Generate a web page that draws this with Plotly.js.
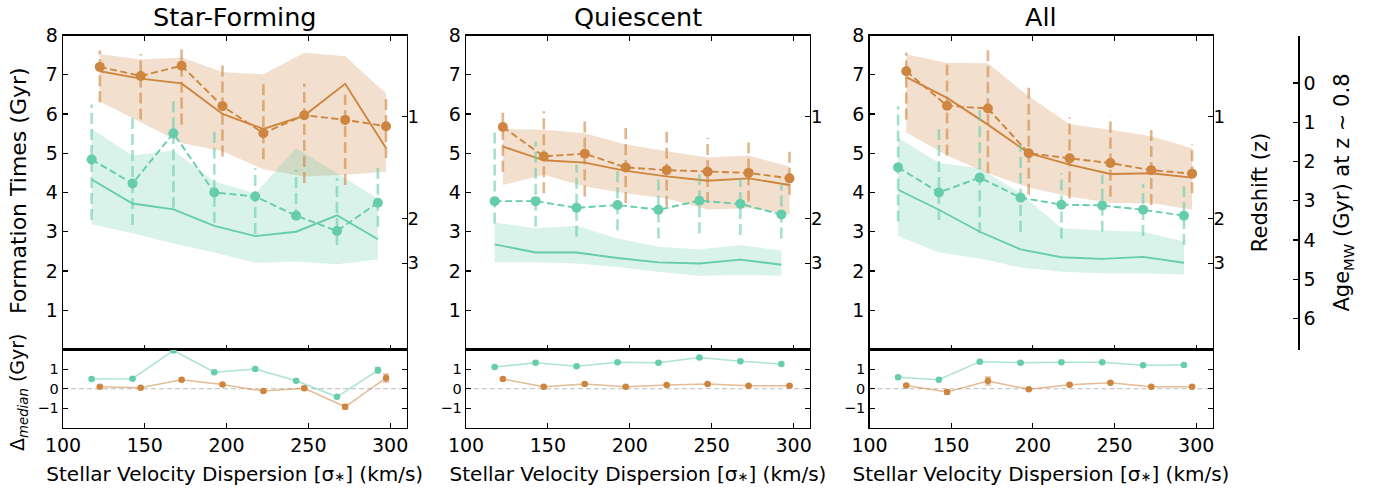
<!DOCTYPE html>
<html>
<head>
<meta charset="utf-8">
<script src="https://cdn.plot.ly/plotly-3.0.1.min.js"></script>
<style>html,body{margin:0;padding:0;background:#fff;}#chart{width:1382px;height:491px;}</style>
</head>
<body>
<div id="chart"></div>
<script>
// ---------- DATA ----------
const panelTitles = ['Star-Forming', 'Quiescent', 'All'];
const xGreen  = [117.5, 142.5, 167.5, 192.5, 217.5, 242.5, 267.5, 292.5];
const xOrange = [122.5, 147.5, 172.5, 197.5, 222.5, 247.5, 272.5, 297.5];
const xTicks = [100, 150, 200, 250, 300];
const yTicks = [1, 2, 3, 4, 5, 6, 7, 8];
const dTicks = [-1, 0, 1];
const zTickLabels = ['1', '2', '3'];
const zTickTimes = [5.94, 3.33, 2.2];          // age of Universe (Gyr) at z = 1, 2, 3
const ageTicks = [0, 1, 2, 3, 4, 5, 6];
const ageUniverseAtZ08 = 6.79;                  // Gyr

// Star-Forming
const sfOrangePts   = [7.20, 6.97, 7.23, 6.20, 5.51, 5.97, 5.85, 5.69];
const sfOrangeHi    = [7.62, 7.53, 7.67, 7.32, 6.89, 6.78, 6.49, 6.42];
const sfOrangeLo    = [6.30, 5.86, 5.73, 4.92, 4.85, 4.24, 4.19, 4.88];
const sfOrangeMed   = [7.09, 6.90, 6.78, 6.00, 5.62, 5.96, 6.77, 5.13];
const sfOrangeBandHi= [7.53, 7.39, 7.44, 7.07, 7.01, 7.56, 7.47, 6.52];
const sfOrangeBandLo= [6.32, 5.79, 5.26, 5.05, 4.59, 4.41, 4.45, 4.53];
const sfGreenPts    = [4.84, 4.23, 5.51, 4.00, 3.90, 3.41, 3.02, 3.74];
const sfGreenHi     = [6.24, 5.92, 6.38, 5.66, 4.62, 4.58, 4.36, 4.71];
const sfGreenLo     = [3.30, 3.17, 3.60, 3.23, 2.94, 3.30, 2.66, 3.13];
const sfGreenMed    = [4.33, 3.72, 3.57, 3.15, 2.89, 3.00, 3.42, 2.81];
const sfGreenBandHi = [5.62, 4.94, 5.07, 4.28, 3.98, 5.13, 4.49, 3.85];
const sfGreenBandLo = [3.19, 2.96, 2.70, 2.47, 2.21, 2.24, 2.17, 2.29];
const sfDeltaGreen     = [0.50, 0.51, 1.95, 0.84, 1.01, 0.41, -0.41, 0.94];
const sfDeltaGreenErr  = [0.06, 0.05, 0.05, 0.05, 0.05, 0.05, 0.05, 0.15];
const sfDeltaOrange    = [0.10, 0.05, 0.46, 0.22, -0.12, 0.02, -0.92, 0.55];
const sfDeltaOrangeErr = [0.05, 0.05, 0.08, 0.06, 0.05, 0.08, 0.12, 0.20];

// Quiescent
const qOrangePts   = [5.67, 4.92, 4.99, 4.64, 4.57, 4.53, 4.50, 4.36];
const qOrangeHi    = [6.11, 6.07, 5.90, 5.73, 5.56, 5.39, 5.36, 5.05];
const qOrangeLo    = [4.53, 3.98, 3.90, 3.73, 3.64, 3.73, 3.77, 3.94];
const qOrangeMed   = [5.17, 4.82, 4.76, 4.55, 4.41, 4.30, 4.36, 4.19];
const qOrangeBandHi= [5.62, 5.60, 5.51, 5.22, 5.05, 4.89, 4.94, 4.66];
const qOrangeBandLo= [4.19, 4.45, 4.15, 3.98, 3.85, 3.57, 3.60, 3.44];
const qGreenPts    = [3.78, 3.78, 3.61, 3.68, 3.56, 3.79, 3.71, 3.44];
const qGreenHi     = [5.64, 5.30, 4.71, 4.71, 4.41, 4.49, 4.36, 4.19];
const qGreenLo     = [3.21, 3.13, 2.87, 3.04, 2.83, 2.96, 2.92, 2.83];
const qGreenMed    = [2.68, 2.47, 2.47, 2.33, 2.22, 2.19, 2.29, 2.16];
const qGreenBandHi = [3.23, 3.09, 3.15, 2.83, 2.62, 2.55, 2.66, 2.52];
const qGreenBandLo = [2.22, 2.22, 2.19, 2.10, 1.98, 1.88, 1.90, 1.88];
const qDeltaGreen     = [1.11, 1.32, 1.15, 1.35, 1.33, 1.59, 1.40, 1.26];
const qDeltaGreenErr  = [0.05, 0.05, 0.05, 0.05, 0.05, 0.05, 0.05, 0.05];
const qDeltaOrange    = [0.50, 0.10, 0.24, 0.10, 0.19, 0.24, 0.15, 0.15];
const qDeltaOrangeErr = [0.05, 0.05, 0.05, 0.05, 0.05, 0.05, 0.05, 0.05];

// All
const aOrangePts   = [7.09, 6.21, 6.14, 5.00, 4.87, 4.75, 4.57, 4.48];
const aOrangeHi    = [7.56, 7.36, 7.63, 6.75, 5.92, 5.94, 5.67, 5.22];
const aOrangeLo    = [5.86, 4.94, 4.49, 3.94, 3.85, 3.90, 3.68, 3.98];
const aOrangeMed   = [6.94, 6.41, 5.73, 5.00, 4.71, 4.47, 4.49, 4.38];
const aOrangeBandHi= [7.52, 7.30, 7.29, 6.45, 5.74, 5.60, 5.43, 5.13];
const aOrangeBandLo= [5.53, 4.94, 4.49, 4.13, 3.90, 3.73, 3.73, 3.56];
const aGreenPts    = [4.64, 4.00, 4.38, 3.87, 3.69, 3.67, 3.56, 3.41];
const aGreenHi     = [6.20, 5.68, 6.11, 5.22, 4.49, 4.45, 4.22, 4.19];
const aGreenLo     = [3.26, 3.30, 2.96, 3.00, 2.83, 3.00, 2.89, 2.66];
const aGreenMed    = [4.07, 3.56, 3.00, 2.55, 2.35, 2.31, 2.36, 2.21];
const aGreenBandHi = [5.40, 4.75, 4.62, 3.98, 3.09, 3.03, 3.00, 2.75];
const aGreenBandLo = [2.89, 2.47, 2.32, 2.09, 1.98, 1.94, 1.94, 1.91];
const aDeltaGreen     = [0.58, 0.46, 1.38, 1.33, 1.35, 1.35, 1.20, 1.21];
const aDeltaGreenErr  = [0.06, 0.05, 0.08, 0.05, 0.05, 0.05, 0.05, 0.05];
const aDeltaOrange    = [0.17, -0.17, 0.39, -0.03, 0.21, 0.31, 0.10, 0.10];
const aDeltaOrangeErr = [0.05, 0.10, 0.20, 0.05, 0.05, 0.05, 0.05, 0.05];

// ---------- BUILD ----------
const ORANGE = 'rgb(205,133,63)';
const GREEN = 'rgb(102,205,170)';
const ORANGE_FILL = 'rgba(205,133,63,0.26)';
const GREEN_FILL = 'rgba(102,205,170,0.25)';
const ORANGE_ERR = 'rgba(205,133,63,0.6)';
const GREEN_ERR = 'rgba(102,205,170,0.6)';
const FONT = 'DejaVu Sans, sans-serif';

const panels = [
  {oP: sfOrangePts, oH: sfOrangeHi, oL: sfOrangeLo, oM: sfOrangeMed, oBH: sfOrangeBandHi, oBL: sfOrangeBandLo,
   gP: sfGreenPts, gH: sfGreenHi, gL: sfGreenLo, gM: sfGreenMed, gBH: sfGreenBandHi, gBL: sfGreenBandLo,
   dG: sfDeltaGreen, dGE: sfDeltaGreenErr, dO: sfDeltaOrange, dOE: sfDeltaOrangeErr},
  {oP: qOrangePts, oH: qOrangeHi, oL: qOrangeLo, oM: qOrangeMed, oBH: qOrangeBandHi, oBL: qOrangeBandLo,
   gP: qGreenPts, gH: qGreenHi, gL: qGreenLo, gM: qGreenMed, gBH: qGreenBandHi, gBL: qGreenBandLo,
   dG: qDeltaGreen, dGE: qDeltaGreenErr, dO: qDeltaOrange, dOE: qDeltaOrangeErr},
  {oP: aOrangePts, oH: aOrangeHi, oL: aOrangeLo, oM: aOrangeMed, oBH: aOrangeBandHi, oBL: aOrangeBandLo,
   gP: aGreenPts, gH: aGreenHi, gL: aGreenLo, gM: aGreenMed, gBH: aGreenBandHi, gBL: aGreenBandLo,
   dG: aDeltaGreen, dGE: aDeltaGreenErr, dO: aDeltaOrange, dOE: aDeltaOrangeErr}
];

function band(x, hi, lo, color, xa, ya) {
  return {type: 'scatter', mode: 'lines', x: x.concat(x.slice().reverse()),
    y: hi.concat(lo.slice().reverse()), fill: 'toself', fillcolor: color,
    line: {width: 0}, xaxis: xa, yaxis: ya, hoverinfo: 'skip', showlegend: false};
}
function segs(x, lo, hi, color, xa, ya) {
  const xs = [], ys = [];
  x.forEach((v, i) => { xs.push(v, v, null); ys.push(lo[i], hi[i], null); });
  return {type: 'scatter', mode: 'lines', x: xs, y: ys, line: {color: color, width: 2.6, dash: '11px,5px'},
    xaxis: xa, yaxis: ya, hoverinfo: 'skip', showlegend: false, connectgaps: false};
}
function line(x, y, color, xa, ya) {
  return {type: 'scatter', mode: 'lines', x: x, y: y, line: {color: color, width: 1.9},
    xaxis: xa, yaxis: ya, showlegend: false};
}
function dashedPts(x, y, color, xa, ya) {
  return {type: 'scatter', mode: 'lines+markers', x: x, y: y,
    line: {color: color, width: 1.9, dash: '7px,3.5px'}, marker: {color: color, size: 10},
    xaxis: xa, yaxis: ya, showlegend: false};
}
function deltaTrace(x, y, err, color, xa, ya) {
  return {type: 'scatter', mode: 'lines+markers', x: x, y: y,
    line: {color: color.replace('rgb', 'rgba').replace(')', ',0.55)'), width: 1.5},
    marker: {color: color, size: 6.5},
    error_y: {type: 'data', array: err, visible: true, color: color.replace('rgb', 'rgba').replace(')', ',0.7)'), thickness: 1.2, width: 3},
    xaxis: xa, yaxis: ya, showlegend: false};
}

const traces = [];
panels.forEach((d, i) => {
  const xa = 'x' + (i === 0 ? '' : (i + 1));
  const ya = 'y' + (i === 0 ? '' : (i + 1));
  traces.push(band(xOrange, d.oBH, d.oBL, ORANGE_FILL, xa, ya));
  traces.push(band(xGreen, d.gBH, d.gBL, GREEN_FILL, xa, ya));
  traces.push(line(xOrange, d.oM, ORANGE, xa, ya));
  traces.push(line(xGreen, d.gM, GREEN, xa, ya));
  traces.push(segs(xOrange, d.oL, d.oH, ORANGE_ERR, xa, ya));
  traces.push(segs(xGreen, d.gL, d.gH, GREEN_ERR, xa, ya));
  traces.push(dashedPts(xOrange, d.oP, ORANGE, xa, ya));
  traces.push(dashedPts(xGreen, d.gP, GREEN, xa, ya));
  const xb = 'x' + (i + 4), yb = 'y' + (i + 4);
  traces.push(deltaTrace(xGreen, d.dG, d.dGE, GREEN, xb, yb));
  traces.push(deltaTrace(xOrange, d.dO, d.dOE, ORANGE, xb, yb));
  // redshift twin axis subplot
  traces.push({type: 'scatter', x: [], y: [], xaxis: xa, yaxis: 'y' + (i + 7), showlegend: false, hoverinfo: 'skip'});
});
// age axis subplot
traces.push({type: 'scatter', x: [], y: [], xaxis: 'x3', yaxis: 'y10', showlegend: false, hoverinfo: 'skip'});

const W = 1382, H = 491;
const xDom = [[63 / W, 406.5 / W], [466 / W, 810 / W], [869.5 / W, 1212.5 / W]];
const topDom = [1 - 349.5 / H, 1 - 35.5 / H];
const botDom = [1 - 428 / H, 1 - 349.5 / H];

const axBase = {showgrid: false, zeroline: false, showline: true, linecolor: '#000', linewidth: 1.3,
  ticks: 'inside', ticklen: 5, tickwidth: 1.1, tickcolor: '#000'};

const layout = {
  width: W, height: H, margin: {l: 0, r: 0, t: 0, b: 0},
  paper_bgcolor: '#fff', plot_bgcolor: 'rgba(0,0,0,0)',
  font: {family: FONT, color: '#000', size: 19},
  showlegend: false,
  annotations: [], shapes: []
};

for (let i = 0; i < 3; i++) {
  const s = i === 0 ? '' : String(i + 1);
  layout['xaxis' + s] = Object.assign({}, axBase, {domain: xDom[i], anchor: 'y' + s, range: [100, 310],
    tickvals: xTicks, showticklabels: false, mirror: 'ticks'});
  layout['yaxis' + s] = Object.assign({}, axBase, {domain: topDom, anchor: 'x' + s, range: [0, 8],
    tickvals: yTicks, mirror: true, tickfont: {size: 19}});
  layout['xaxis' + (i + 4)] = Object.assign({}, axBase, {domain: xDom[i], anchor: 'y' + (i + 4), range: [100, 310],
    tickvals: xTicks, mirror: true, tickfont: {size: 19},
    title: {text: "Stellar Velocity Dispersion [σ<span style='font-size:13px'>∗</span>] (km/s)", font: {size: 20}, standoff: 12}});
  layout['yaxis' + (i + 4)] = Object.assign({}, axBase, {domain: botDom, anchor: 'x' + (i + 4), range: [-2, 2],
    tickvals: dTicks, mirror: 'ticks', tickfont: {size: 14.5}});
  layout['yaxis' + (i + 7)] = Object.assign({}, axBase, {overlaying: 'y' + s, anchor: 'x' + s, side: 'right',
    range: [0, 8], tickvals: zTickTimes, ticktext: zTickLabels, showline: false, tickfont: {size: 18}});
  layout.annotations.push({text: panelTitles[i], xref: 'paper', yref: 'paper',
    x: (xDom[i][0] + xDom[i][1]) / 2, y: 1 - 17 / H, xanchor: 'center', yanchor: 'middle',
    showarrow: false, font: {size: 25.5}});
  layout.shapes.push({type: 'line', xref: 'x' + (i + 4) + ' domain', x0: 0, x1: 1, yref: 'y' + (i + 4), y0: 0, y1: 0,
    line: {color: '#bbbbbb', width: 1.2, dash: '5px,3px'}, layer: 'below'});
}
layout.yaxis9.title = {text: 'Redshift (z)', font: {size: 21}, standoff: 28};
layout.yaxis10 = Object.assign({}, axBase, {overlaying: 'y3', anchor: 'free', position: 1298 / W, side: 'right',
  range: [ageUniverseAtZ08, ageUniverseAtZ08 - 8], tickvals: ageTicks, linewidth: 1.6, tickfont: {size: 19},
  title: {text: 'Age<sub>MW</sub> (Gyr) at z ~ 0.8', font: {size: 21}, standoff: 20}});

layout.annotations.push({text: 'Formation Times (Gyr)', textangle: -90, xref: 'paper', yref: 'paper',
  x: 18 / W, y: 1 - 191 / H, xanchor: 'center', yanchor: 'middle', showarrow: false, font: {size: 22}});
layout.annotations.push({text: 'Δ<sub><i>median</i></sub> (Gyr)', textangle: -90, xref: 'paper', yref: 'paper',
  x: 18 / W, y: 1 - 392 / H, xanchor: 'center', yanchor: 'middle', showarrow: false, font: {size: 19}});

Plotly.newPlot('chart', traces, layout, {staticPlot: true});
</script>
</body>
</html>
